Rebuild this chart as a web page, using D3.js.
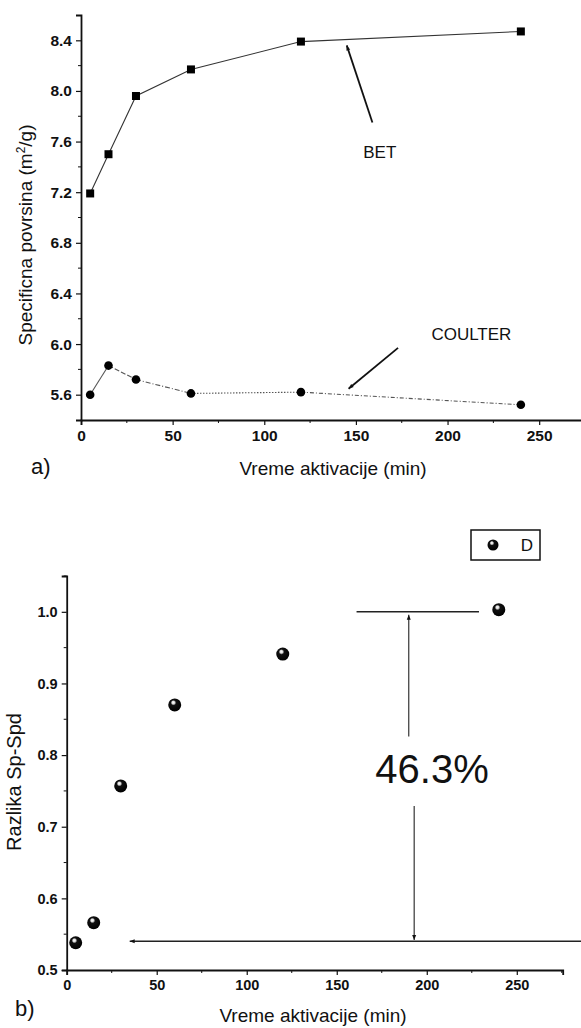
<!DOCTYPE html>
<html>
<head>
<meta charset="utf-8">
<script src="https://cdn.jsdelivr.net/npm/d3@7"></script>
<style>
  body { margin: 0; background: #fff; }
  text { font-family: Arial, "Liberation Sans", sans-serif; fill: #111; }
</style>
</head>
<body>
<svg id="chart"></svg>
<script>
// activation times (min)
const times = [5, 15, 30, 60, 120, 240];
// specific surface area (m2/g)
const betValues = [7.19, 7.50, 7.96, 8.17, 8.39, 8.47];
const coulterValues = [5.60, 5.83, 5.72, 5.61, 5.62, 5.52];
// difference Sp-Spd
const diffValues = [0.538, 0.566, 0.757, 0.870, 0.941, 1.003];

const xTicks = [0, 50, 100, 150, 200, 250];
const topYTicks = [5.6, 6.0, 6.4, 6.8, 7.2, 7.6, 8.0, 8.4];
const bottomYTicks = [0.5, 0.6, 0.7, 0.8, 0.9, 1.0];

const width = 581, height = 1028;
const svg = d3.select("#chart").attr("width", width).attr("height", height);
svg.append("rect").attr("width", width).attr("height", height).attr("fill", "#fff");

const defs = svg.append("defs");
const grad = defs.append("radialGradient").attr("id", "ball")
    .attr("cx", "45%").attr("cy", "40%").attr("r", "60%").attr("fx", "38%").attr("fy", "30%");
grad.append("stop").attr("offset", "0%").attr("stop-color", "#fff");
grad.append("stop").attr("offset", "18%").attr("stop-color", "#ddd");
grad.append("stop").attr("offset", "35%").attr("stop-color", "#111");
grad.append("stop").attr("offset", "100%").attr("stop-color", "#000");

defs.append("marker").attr("id", "arrow")
    .attr("viewBox", "0 0 10 10").attr("refX", 10).attr("refY", 5)
    .attr("markerWidth", 7).attr("markerHeight", 5).attr("orient", "auto")
    .attr("markerUnits", "userSpaceOnUse")
    .append("path").attr("d", "M0,1 L10,5 L0,9 z").attr("fill", "#111");

function drawAxes(g, x, y, yTicks, yMinor, fmt, fontSize) {
    const xAxis = d3.axisBottom(x).tickValues(xTicks).tickSize(5).tickPadding(5).tickFormat(d3.format("d"));
    const xa = g.append("g").attr("transform", `translate(0,${y.range()[0]})`).call(xAxis);
    xa.append("g").selectAll("line").data([25, 75, 125, 175, 225, 275]).join("line")
        .attr("x1", d => x(d)).attr("x2", d => x(d)).attr("y1", 0).attr("y2", 3).attr("stroke", "#111");

    const yAxis = d3.axisLeft(y).tickValues(yTicks).tickSize(5).tickPadding(4).tickFormat(fmt);
    const ya = g.append("g").attr("transform", `translate(${x.range()[0]},0)`).call(yAxis);
    ya.append("g").selectAll("line").data(yMinor).join("line")
        .attr("y1", d => y(d)).attr("y2", d => y(d)).attr("x1", 0).attr("x2", -3).attr("stroke", "#111");

    [xa, ya].forEach(a => {
        a.select(".domain").attr("stroke", "#111").attr("stroke-width", 1.8);
        a.selectAll(".tick line").attr("stroke", "#111").attr("stroke-width", 1.2);
        a.selectAll(".tick text").attr("font-size", fontSize).attr("font-weight", "bold")
            .attr("font-family", "Arial, 'Liberation Sans', sans-serif").attr("fill", "#111");
    });
}

// ---------- a) ----------
const xTop = d3.scaleLinear().domain([0, 275]).range([81, 585]);
const yTop = d3.scaleLinear().domain([5.4, 8.6]).range([420, 15]);
const gTop = svg.append("g");
drawAxes(gTop, xTop, yTop, topYTicks, [5.8, 6.2, 6.6, 7.0, 7.4, 7.8, 8.2], d3.format(".1f"), 15.5);

const line = (xs, ys) => d3.line().x(d => xs(d[0])).y(d => ys(d[1]));
const betPts = times.map((t, i) => [t, betValues[i]]);
const coulterPts = times.map((t, i) => [t, coulterValues[i]]);

gTop.append("path").datum(betPts).attr("d", line(xTop, yTop))
    .attr("fill", "none").attr("stroke", "#333").attr("stroke-width", 1.1);

// coulter: segments with changing dash style
const coulterDash = [null, "5,2", "5,2,1,2", "1.5,1.5", "4,2,1,2"];
gTop.append("g").selectAll("path").data(d3.pairs(coulterPts)).join("path")
    .attr("d", d => line(xTop, yTop)(d))
    .attr("fill", "none").attr("stroke", "#555").attr("stroke-width", 1.1)
    .attr("stroke-dasharray", (d, i) => coulterDash[i]);

gTop.append("g").selectAll("rect").data(betPts).join("rect")
    .attr("x", d => xTop(d[0]) - 4).attr("y", d => yTop(d[1]) - 4)
    .attr("width", 8).attr("height", 8).attr("fill", "#000");
gTop.append("g").selectAll("circle").data(coulterPts).join("circle")
    .attr("cx", d => xTop(d[0])).attr("cy", d => yTop(d[1])).attr("r", 4.3).attr("fill", "#000");

// annotations
gTop.append("line").attr("x1", xTop(159)).attr("y1", yTop(7.75)).attr("x2", xTop(145)).attr("y2", yTop(8.36))
    .attr("stroke", "#111").attr("stroke-width", 1.8).attr("marker-end", "url(#arrow)");
gTop.append("text").attr("x", xTop(163)).attr("y", yTop(7.47)).attr("text-anchor", "middle")
    .attr("font-size", 17).text("BET");
gTop.append("line").attr("x1", xTop(173)).attr("y1", yTop(5.97)).attr("x2", xTop(146)).attr("y2", yTop(5.647))
    .attr("stroke", "#111").attr("stroke-width", 1.8).attr("marker-end", "url(#arrow)");
gTop.append("text").attr("x", xTop(213)).attr("y", yTop(6.03)).attr("text-anchor", "middle")
    .attr("font-size", 17).text("COULTER");

gTop.append("text").attr("x", 333).attr("y", 475).attr("text-anchor", "middle")
    .attr("font-size", 19).text("Vreme aktivacije (min)");
const yl = gTop.append("text").attr("transform", "translate(32,235) rotate(-90)")
    .attr("text-anchor", "middle").attr("font-size", 19);
yl.append("tspan").text("Specificna povrsina (m");
yl.append("tspan").attr("font-size", 12).attr("dy", -7).text("2");
yl.append("tspan").attr("dy", 7).text("/g)");
gTop.append("text").attr("x", 31).attr("y", 474).attr("font-size", 22).text("a)");

// ---------- b) ----------
const xBot = d3.scaleLinear().domain([0, 275.5]).range([66.7, 562.7]);
const yBot = d3.scaleLinear().domain([0.5, 1.05]).range([970, 576]);
const gBot = svg.append("g");
drawAxes(gBot, xBot, yBot, bottomYTicks, [0.55, 0.65, 0.75, 0.85, 0.95, 1.05], d3.format(".1f"), 14.5);

const diffPts = times.map((t, i) => [t, diffValues[i]]);
gBot.append("g").selectAll("circle").data(diffPts).join("circle")
    .attr("cx", d => xBot(d[0])).attr("cy", d => yBot(d[1])).attr("r", 6.5).attr("fill", "url(#ball)");

// 46.3% annotation
gBot.append("line").attr("x1", xBot(161)).attr("x2", xBot(229)).attr("y1", yBot(1.0)).attr("y2", yBot(1.0))
    .attr("stroke", "#222").attr("stroke-width", 1.5);
gBot.append("line").attr("x1", xBot(190)).attr("x2", xBot(190)).attr("y1", yBot(0.826)).attr("y2", yBot(0.996))
    .attr("stroke", "#222").attr("stroke-width", 1.1).attr("marker-end", "url(#arrow)");
gBot.append("line").attr("x1", xBot(193)).attr("x2", xBot(193)).attr("y1", yBot(0.729)).attr("y2", yBot(0.542))
    .attr("stroke", "#222").attr("stroke-width", 1.1).attr("marker-end", "url(#arrow)");
gBot.append("line").attr("x1", xBot(290)).attr("x2", xBot(35)).attr("y1", yBot(0.54)).attr("y2", yBot(0.54))
    .attr("stroke", "#222").attr("stroke-width", 1.5).attr("marker-end", "url(#arrow)");
gBot.append("text").attr("x", 432).attr("y", 783).attr("text-anchor", "middle")
    .attr("font-size", 40).text("46.3%");

// legend
const leg = gBot.append("g");
leg.append("rect").attr("x", 471).attr("y", 530).attr("width", 69).attr("height", 30)
    .attr("fill", "#fff").attr("stroke", "#111").attr("stroke-width", 1.5);
leg.append("circle").attr("cx", 493).attr("cy", 545).attr("r", 5.5).attr("fill", "url(#ball)");
leg.append("text").attr("x", 527).attr("y", 551).attr("text-anchor", "middle").attr("font-size", 17).text("D");

gBot.append("text").attr("x", 313).attr("y", 1022).attr("text-anchor", "middle")
    .attr("font-size", 19).text("Vreme aktivacije (min)");
gBot.append("text").attr("transform", "translate(21,782) rotate(-90)")
    .attr("text-anchor", "middle").attr("font-size", 20).text("Razlika Sp-Spd");
gBot.append("text").attr("x", 15).attr("y", 1016).attr("font-size", 22).text("b)");
</script>
</body>
</html>
